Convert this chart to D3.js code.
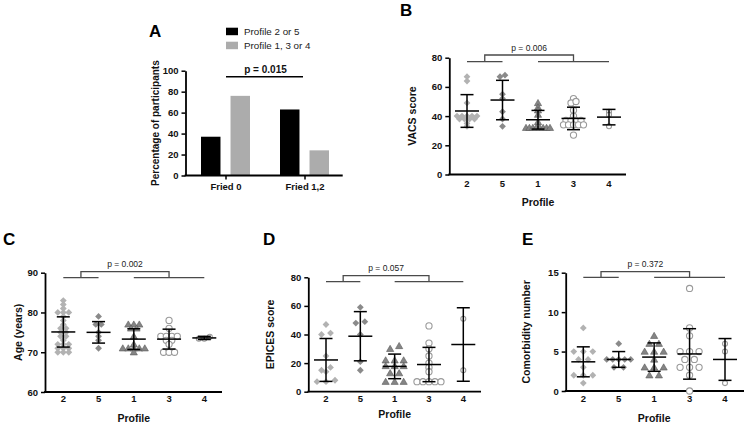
<!DOCTYPE html>
<html><head><meta charset="utf-8">
<script src="https://cdn.jsdelivr.net/npm/d3@7"></script>
<style>
body{margin:0;background:#fff}
svg{display:block}
text{font-family:"Liberation Sans",Arial,sans-serif}
</style>
</head><body>
<svg id="chart" width="744" height="423"></svg>
<script>
// ---------------- DATA ----------------
const profiles = ["2","5","1","3","4"];

// Panel A
const friedCats = ["Fried 0","Fried 1,2"];
const friedGroups = ["Profile 2 or 5","Profile 1, 3 or 4"];
const friedPct25 = [37, 63];
const friedPct134 = [76, 24];
const friedTicks = [0,20,40,60,80,100];
const friedP = "p = 0.015";

// Panel B – VACS score (points per profile, order 2,5,1,3,4)
const vacsPoints = [
  [67,64,49,40,40,40,40,40,38,38,38,38,35,33],
  [68,67,55,52,43,38,33],
  [49,46,44,41,36,32,32,32,32,32,32,32,32],
  [52,50,49,44,40,37,37,37,37,34,34,34,34,34,27],
  [43,41,33]
];
const vacsMean = [43.5,51,37.5,38.4,39.3];
const vacsSD = [11.2,13.5,6.4,7.7,5.3];
const vacsTicks = [0,20,40,60,80];
const vacsP = "p = 0.006";

// Panel C – Age
const agePoints = [
  [83,82,81,80,80,80,79,78,77,76,76,75,75,74,74,73,72,72,72,71,71,71,70,70,70],
  [79,77,77,75,74,73,71],
  [77,77,77,76,76,74,72,71,71,71,71,71,70],
  [78,76,74,74,74,74,73,73,72,70,70,70],
  [73.4,73.4,73.9]
];
const ageMean = [75.1,75,73.3,73.3,73.6];
const ageSD = [3.8,2.7,2.6,2.5,0.4];
const ageTicks = [60,70,80,90];
const ageP = "p = 0.002";

// Panel D – EPICES score
const epicesPoints = [
  [47,41,40,25,17,15,14,8,7,7],
  [59,49,48,40,21,15],
  [32,30,22,22,22,18,18,18,13,13,7,7,7],
  [46,34,30,25,20,17,14,7,7,7,7,7],
  [51,15]
];
const epicesMean = [22.2,38.8,17.7,19,33];
const epicesSD = [15,17.2,8.6,12,25.7];
const epicesTicks = [0,20,40,60,80];
const epicesP = "p = 0.057";

// Panel E – Comorbidity number
const comorbPoints = [
  [8,5,5,5,4,4,3,2,2,2,1],
  [6,4,4,4,4,4,3,3],
  [7,6,6,5,5,5,4,3,3,3,2,2],
  [13,8,7,5,5,5,4,4,3,3,3,2,0],
  [6,5,1]
];
const comorbMean = [3.7,4,4.3,4.7,4];
const comorbSD = [1.9,1,1.8,3.2,2.65];
const comorbTicks = [0,5,10,15];
const comorbP = "p = 0.372";

// ---------------- DRAWING ----------------
const svg = d3.select("#chart");
const FONT = '"Liberation Sans",Arial,sans-serif';

const markerStyle = {
  "2": {shape:"diamond", fill:"#b2b2b2", stroke:"none"},
  "5": {shape:"diamond", fill:"#8a8a8a", stroke:"none"},
  "1": {shape:"triangle", fill:"#858585", stroke:"#5a5a5a"},
  "3": {shape:"circle", fill:"#fff", stroke:"#9a9a9a", r:3.1},
  "4": {shape:"circle", fill:"#fff", stroke:"#9a9a9a", r:2.5}
};

function drawMarker(g, prof, cx, cy){
  const m = markerStyle[prof];
  if (m.shape === "diamond") {
    const r = 3.4;
    g.append("path").attr("d", `M${cx},${cy-r}L${cx+r},${cy}L${cx},${cy+r}L${cx-r},${cy}Z`)
      .attr("fill", m.fill);
  } else if (m.shape === "triangle") {
    g.append("path").attr("d", `M${cx},${cy-3.5}L${cx+3.6},${cy+2.7}L${cx-3.6},${cy+2.7}Z`)
      .attr("fill", m.fill).attr("stroke", m.stroke).attr("stroke-width", 0.6);
  } else {
    g.append("circle").attr("cx", cx).attr("cy", cy).attr("r", m.r)
      .attr("fill", m.fill).attr("stroke", m.stroke).attr("stroke-width", 1.1);
  }
}

function styleAxis(g){
  g.select(".domain").attr("stroke","#000").attr("stroke-width",1.8);
  g.selectAll(".tick line").attr("stroke","#000").attr("stroke-width",1.5);
  g.selectAll(".tick text").attr("font-family",FONT).attr("font-weight","bold")
    .attr("font-size",9.5).attr("fill","#111");
}

function dotPanel(c){
  const g = svg.append("g");
  const y = d3.scaleLinear().domain([c.ticks[0], c.ticks[c.ticks.length-1]]).range([c.yBot, c.yTop]);
  const x = d3.scalePoint().domain(profiles).range(c.catRange);

  const ya = g.append("g").attr("transform",`translate(${c.ax},0)`)
    .call(d3.axisLeft(y).tickValues(c.ticks).tickSize(4).tickSizeOuter(0).tickPadding(3));
  styleAxis(ya);
  g.append("line").attr("x1", c.ax-0.9).attr("x2", c.axEnd).attr("y1", c.yBot).attr("y2", c.yBot)
    .attr("stroke","#000").attr("stroke-width",1.8);
  g.selectAll(".cat").data(profiles).join("text")
    .attr("x", d=>x(d)).attr("y", c.catY).attr("text-anchor","middle")
    .attr("font-weight","bold").attr("font-size",9.5).attr("fill","#111").text(d=>d);
  g.append("text").attr("x", x("1")).attr("y", c.profileY).attr("text-anchor","middle")
    .attr("font-weight","bold").attr("font-size",10.5).attr("fill","#111").text("Profile");
  g.append("text").attr("transform",`translate(${c.ylabX},${(c.yTop+c.yBot)/2}) rotate(-90)`)
    .attr("text-anchor","middle").attr("dy","0.35em")
    .attr("font-weight","bold").attr("font-size",10.5).attr("fill","#111").text(c.yLabel);
  g.append("text").attr("x", c.letterX).attr("y", c.letterY)
    .attr("font-weight","bold").attr("font-size",17).attr("fill","#000").text(c.letter);

  profiles.forEach((prof, i) => {
    const vals = c.points[i].slice().sort((a,b)=>b-a);
    const rows = [];
    vals.forEach(v => {
      const last = rows[rows.length-1];
      if (last && Math.abs(y(v) - y(last[0])) <= c.tol) last.push(v);
      else rows.push([v]);
    });
    rows.forEach(row => {
      row.sort((a,b)=>a-b);
      const n = row.length;
      const sp = n > 1 ? Math.min(c.spacing, c.maxW/(n-1)) : 0;
      row.forEach((v, k) => {
        drawMarker(g, prof, x(prof) + (k-(n-1)/2)*sp, y(v));
      });
    });
  });

  profiles.forEach((prof, i) => {
    const cx = x(prof), m = c.mean[i], s = c.sd[i];
    const eb = g.append("g").attr("stroke","#000").attr("stroke-width",1.5);
    eb.append("line").attr("x1",cx).attr("x2",cx).attr("y1",y(m-s)).attr("y2",y(m+s));
    eb.append("line").attr("x1",cx-6.5).attr("x2",cx+6.5).attr("y1",y(m-s)).attr("y2",y(m-s));
    eb.append("line").attr("x1",cx-6.5).attr("x2",cx+6.5).attr("y1",y(m+s)).attr("y2",y(m+s));
    eb.append("line").attr("x1",cx-12).attr("x2",cx+12).attr("y1",y(m)).attr("y2",y(m));
  });

  const yT = c.yTop + c.brTop, yL = c.yTop + c.brLow;
  const mL = (x("2")+x("5"))/2, mR = (x("1")+x("4"))/2;
  const br = g.append("g").attr("stroke","#4a4a4a").attr("stroke-width",1.3).attr("fill","none");
  br.append("path").attr("d",`M${mL},${yL}V${yT}H${mR}V${yL}`);
  br.append("line").attr("x1",x("2")).attr("x2",x("5")).attr("y1",yL).attr("y2",yL);
  br.append("line").attr("x1",x("1")).attr("x2",x("4")).attr("y1",yL).attr("y2",yL);
  g.append("text").attr("x",(mL+mR)/2).attr("y",yT-4.5).attr("text-anchor","middle")
    .attr("font-size",8.5).attr("fill","#222").text(c.p);
}

// ---- Panel A ----
(function(){
  const g = svg.append("g");
  const yTop = 70.7, yBot = 175.5, ax = 185.5;
  const y = d3.scaleLinear().domain([0,100]).range([yBot,yTop]);
  const x0 = d3.scaleBand().domain(friedCats).range([186.5,344.5]);
  const x1 = d3.scaleBand().domain(friedGroups).range([14.5,63.5]).paddingInner(0.34);
  const colors = {"Profile 2 or 5":"#000","Profile 1, 3 or 4":"#acacac"};
  const rows = friedCats.map((c,i)=>({cat:c, vals:[
    {grp:friedGroups[0], v:friedPct25[i]}, {grp:friedGroups[1], v:friedPct134[i]}]}));
  const cg = g.selectAll(".cat").data(rows).join("g")
    .attr("transform", d=>`translate(${x0(d.cat)},0)`);
  cg.selectAll("rect").data(d=>d.vals).join("rect")
    .attr("x", d=>x1(d.grp)).attr("width", x1.bandwidth())
    .attr("y", d=>y(d.v)).attr("height", d=>yBot-y(d.v)).attr("fill", d=>colors[d.grp]);

  const ya = g.append("g").attr("transform",`translate(${ax},0)`)
    .call(d3.axisLeft(y).tickValues(friedTicks).tickSize(4).tickSizeOuter(0).tickPadding(3));
  styleAxis(ya);
  const xa = g.append("g").attr("transform",`translate(0,${yBot})`)
    .call(d3.axisBottom(x0).tickSize(4).tickSizeOuter(0).tickPadding(4));
  xa.select(".domain").remove();
  g.append("line").attr("x1",ax-0.9).attr("x2",342.7).attr("y1",yBot).attr("y2",yBot)
    .attr("stroke","#000").attr("stroke-width",1.8);
  styleAxis(xa);

  g.append("text").attr("transform",`translate(155.7,${(yTop+yBot)/2}) rotate(-90)`)
    .attr("text-anchor","middle").attr("dy","0.35em").attr("font-weight","bold")
    .attr("font-size",10).attr("fill","#111").text("Percentage of participants");

  const cL = x0(friedCats[0]) + x0.bandwidth()/2, cR = x0(friedCats[1]) + x0.bandwidth()/2;
  g.append("line").attr("x1",cL).attr("x2",cR-2).attr("y1",76.7).attr("y2",76.7)
    .attr("stroke","#000").attr("stroke-width",1.5);
  g.append("text").attr("x",(cL+cR)/2).attr("y",73).attr("text-anchor","middle")
    .attr("font-weight","bold").attr("font-size",10).attr("fill","#111").text(friedP);

  friedGroups.forEach((grp,i)=>{
    g.append("rect").attr("x",226).attr("y",27.7+i*14).attr("width",12).attr("height",7.5)
      .attr("fill",colors[grp]);
    g.append("text").attr("x",244).attr("y",35+i*14).attr("font-size",9.8).attr("fill","#222")
      .text(grp);
  });
  g.append("text").attr("x",149).attr("y",37).attr("font-weight","bold").attr("font-size",17)
    .attr("fill","#000").text("A");
})();

// ---- Panel B ----
dotPanel({letter:"B", letterX:400, letterY:16, ax:449.3, axEnd:626, yTop:57.7, yBot:174.5,
  ticks:vacsTicks, catRange:[467,609], points:vacsPoints, mean:vacsMean, sd:vacsSD,
  spacing:5, maxW:24, tol:2, p:vacsP, brTop:-2.7, brLow:4, yLabel:"VACS score", ylabX:412,
  catY:187, profileY:206});

// ---- Panel C ----
dotPanel({letter:"C", letterX:3, letterY:245, ax:45, axEnd:222, yTop:272.7, yBot:392,
  ticks:ageTicks, catRange:[63.3,204.3], points:agePoints, mean:ageMean, sd:ageSD,
  spacing:5.5, maxW:24, tol:2.5, p:ageP, brTop:-1, brLow:5, yLabel:"Age (years)", ylabX:18,
  catY:401.5, profileY:422});

// ---- Panel D ----
dotPanel({letter:"D", letterX:263, letterY:245, ax:308.3, axEnd:481, yTop:277.3, yBot:391.7,
  ticks:epicesTicks, catRange:[326,463.3], points:epicesPoints, mean:epicesMean, sd:epicesSD,
  spacing:9, maxW:24, tol:3, p:epicesP, brTop:-1.6, brLow:4.4, yLabel:"EPICES score", ylabX:270,
  catY:401.5, profileY:418});

// ---- Panel E ----
dotPanel({letter:"E", letterX:522, letterY:245, ax:565.7, axEnd:744, yTop:272.7, yBot:391,
  ticks:comorbTicks, catRange:[583.3,725], points:comorbPoints, mean:comorbMean, sd:comorbSD,
  spacing:9.5, maxW:24, tol:2, p:comorbP, brTop:-1, brLow:4.6, yLabel:"Comorbidity number", ylabX:526,
  catY:401.5, profileY:422});
</script>
</body></html>
